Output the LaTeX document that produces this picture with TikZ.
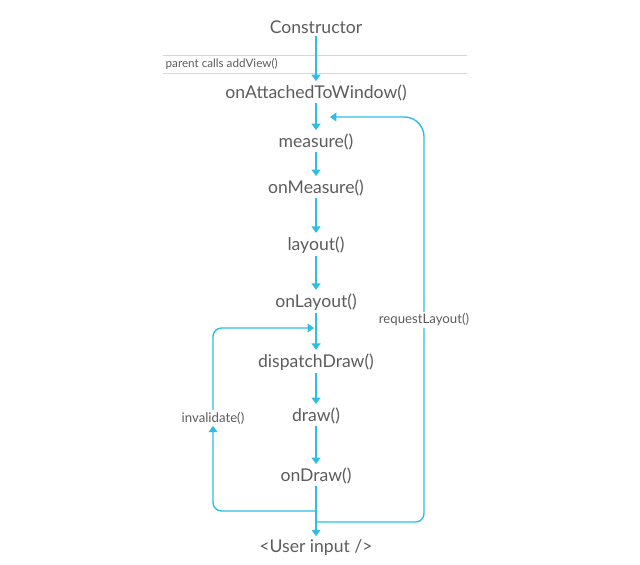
\documentclass[tikz,border=0pt]{standalone}
\usepackage{fontspec}
\setmainfont{Lato}
\usepackage{tikz}
\usetikzlibrary{arrows.meta,positioning,calc}
\definecolor{flowcyan}{HTML}{2DBDE5}
\definecolor{txtgrey}{HTML}{5C5C5C}
\definecolor{rulegrey}{HTML}{D6D6D6}
\tikzset{
  >={Triangle[length=1.6mm,width=2.2mm]},
  % steg
  st/.style={inner sep=1.5pt,text=txtgrey,font=\fontsize{12.5}{14}\selectfont},
  fe/.style={->,draw=flowcyan,line width=1pt,shorten >=1pt},
  lp/.style={draw=flowcyan,line width=1pt,rounded corners=6pt},
  lbl/.style={inner sep=1pt,text=txtgrey,font=\fontsize{9.4}{11}\selectfont},
  sep/.style={draw=rulegrey,line width=0.5pt},
}
\begin{document}
\begin{tikzpicture}[x=0.025cm,y=-0.025cm]
\useasboundingbox (0,0) rectangle (640,565);
  % avdelare
  \draw[sep] (163,55) -- (467,55);
  \draw[sep] (163,73) -- (467,73);
  \node[lbl,anchor=west,font=\fontsize{8.3}{9}\selectfont] (pc) at (164,64) {parent calls addView()};
  % steg
  \node[st] (ctor) at (316,27) {Constructor};
  \node[st] (att) at (316,93) {onAttachedToWindow()};
  \node[st] (meas) at (316,142) {measure()};
  \node[st] (omeas) at (316,188) {onMeasure()};
  \node[st] (lay) at (316,245) {layout()};
  \node[st] (olay) at (316,302) {onLayout()};
  \node[st] (disp) at (316,362) {dispatchDraw()};
  \node[st] (drw) at (316,416) {draw()};
  \node[st] (odrw) at (316,476) {onDraw()};
  \node[st] (user) at (316,548) {<User input />};
  \draw[fe] (ctor) -- (att);
  \draw[fe] (att) -- (meas);
  \draw[fe] (meas) -- (omeas);
  \draw[fe] (omeas) -- (lay);
  \draw[fe] (lay) -- (olay);
  \draw[fe] (olay) -- (disp);
  \draw[fe] (disp) -- (drw);
  \draw[fe] (drw) -- (odrw);
  \draw[fe] (odrw) -- (user);
  % slingor
  \node[lbl] (req) at (424,320) {requestLayout()};
  \node[lbl] (inv) at (213,418) {invalidate()};
  \coordinate (rl) at (316,522);
  \coordinate (ll) at (316,511);
  \coordinate (rt) at (330,117);
  \coordinate (lt) at (314,328);
  \draw[lp] (rl) -| (req.south);
  \draw[lp,->,rounded corners=14pt] (req.north) |- (rt);
  \draw[lp,->] (ll) -| (inv.south);
  \draw[lp,->] (inv.north) |- (lt);
\end{tikzpicture}
\end{document}
